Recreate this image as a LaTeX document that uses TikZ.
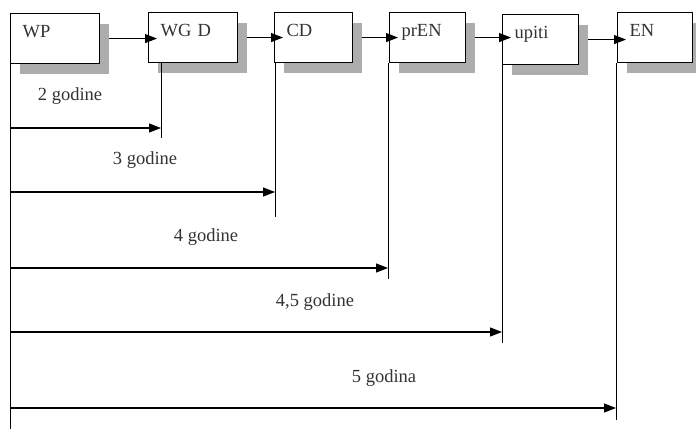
\documentclass[tikz,border=0pt]{standalone}
\usepackage{fontspec}
\setmainfont{Liberation Serif}
\usetikzlibrary{arrows.meta, shadows}

\begin{document}
\begin{tikzpicture}[x=1pt, y=-1pt, font=\fontsize{18.5}{21}\selectfont, text=black!80,
  box/.style={draw, line width=1.1pt, fill=white, anchor=north west, align=left,
    inner xsep=12pt, inner ysep=0pt, text height=24pt, text depth=26pt,
    drop shadow={shadow xshift=9pt, shadow yshift=-10pt, fill=black!32, opacity=1}},
  link/.style={line width=1.2pt, -{Triangle[length=12pt, width=9pt]}},
  rule/.style={line width=1pt}]
  \useasboundingbox (0,0) rectangle (696,429);
  \clip (0,0) rectangle (696,429);
  % stages
  \foreach \n/\x/\y/\w/\lab in {wp/10/13/65/WP, wgd/148/12/65/WG D, cd/274/12/54/CD,
      pren/389/12/52/prEN, upiti/502/14/52/upiti, en/617/12/51/EN} {
    \node[box, text width=\w pt] (\n) at (\x,\y) {\lab};
  }
  % arrows between stages
  \foreach \a/\b in {wp/wgd, wgd/cd, cd/pren, pren/upiti, upiti/en} {
    \draw[link] ([xshift=9pt]\a.east) -- ([xshift=9pt]\a.east -| \b.west);
  }
  % time axis
  \coordinate (base) at (10,429);
  \draw[rule] (wp.south west) -- (base);
  \foreach \n/\vx/\ybot/\yarr/\lx/\ly/\txt in {wgd/161/138/128/70/96/2 godine,
      cd/275/217/192/145/160/3 godine, pren/388/279/268/206/237/4 godine,
      upiti/502/343/332/315/302/{4,5 godine}, en/616/420/408/384/378/5 godina} {
    \coordinate (\n-end) at (\vx,\ybot);
    \coordinate (\n-tail) at (10,\yarr);
    \draw[rule] (\n.south -| \n-end) -- (\n-end);
    \draw[link] (\n-tail) -- (\n-tail -| \n-end);
    \node (\n-lab) at (\lx,\ly) {\txt};
  }
\end{tikzpicture}
\end{document}
